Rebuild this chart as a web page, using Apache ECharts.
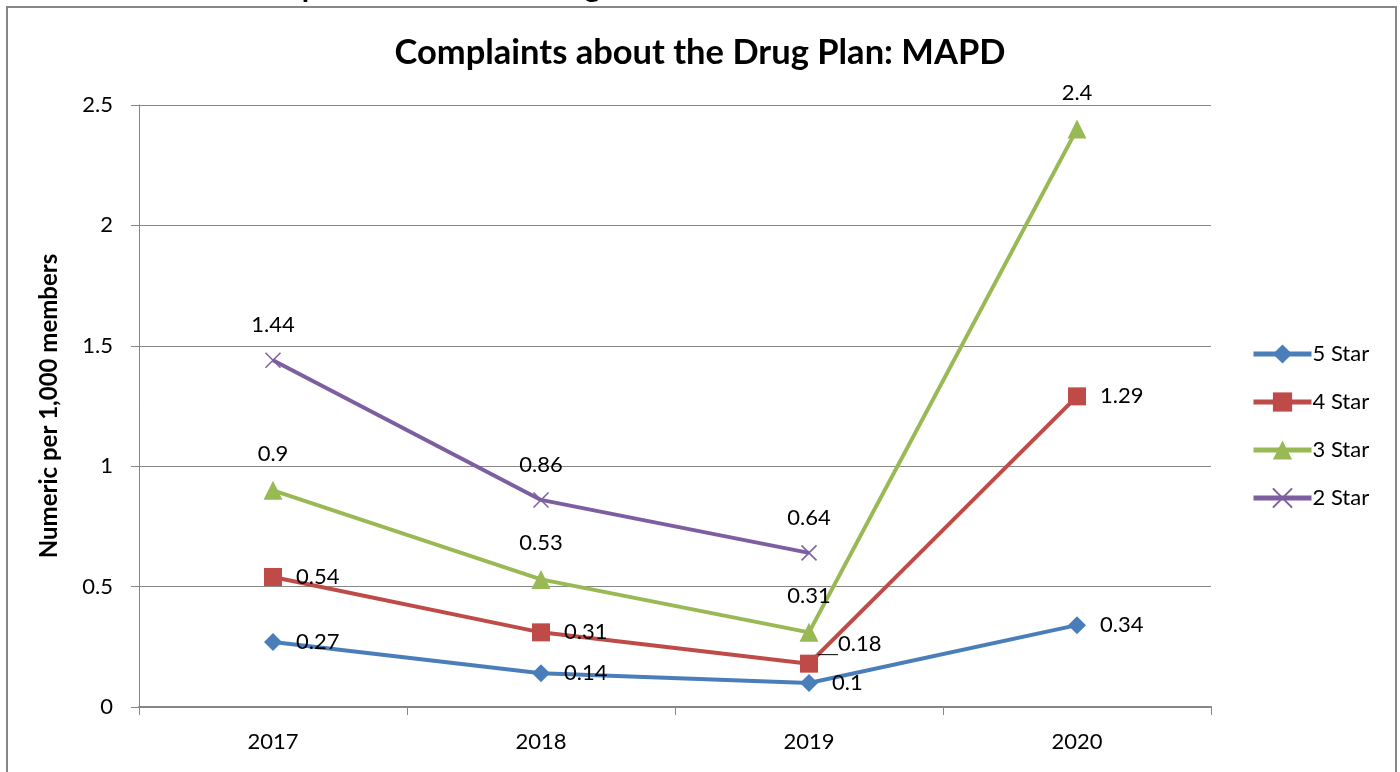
<!DOCTYPE html>
<html>
<head>
<meta charset="utf-8">
<script src="https://cdn.jsdelivr.net/npm/echarts@6/dist/echarts.min.js"></script>
<style>
  html, body { margin: 0; padding: 0; background: #ffffff; }
  #chart { width: 1400px; height: 772px; }
</style>
</head>
<body>
<div id="chart"></div>
<script>
// Yearly complaint rates (per 1,000 members) by star rating
const years = ['2017', '2018', '2019', '2020'];
const fiveStar = [0.27, 0.14, 0.1, 0.34];
const fourStar = [0.54, 0.31, 0.18, 1.29];
const threeStar = [0.9, 0.53, 0.31, 2.4];
const twoStar = [1.44, 0.86, 0.64, null];
const yTicks = [0, 0.5, 1, 1.5, 2, 2.5];

const FONT = 'Lato, "Open Sans", sans-serif';
const AXIS_GRAY = '#868686';
const TXT = 22;

const chart = echarts.init(document.getElementById('chart'));

function labelStyle(position, distance) {
  return {
    show: true,
    position: position,
    distance: distance,
    color: '#000',
    fontFamily: FONT,
    fontSize: TXT,
    formatter: (p) => String(p.value)
  };
}

// 4 Star 2019 label sits up and to the right of its marker, with a leader line
const fourStarData = fourStar.map((v, i) =>
  i === 2
    ? {
        value: v,
        label: { offset: [6, -20] },
        labelLine: { show: true, length2: 4, lineStyle: { color: '#000', width: 1 } }
      }
    : v
);

const crossPath = 'path://M0,0L10,10M10,0L0,10';

chart.setOption({
  animation: false,
  backgroundColor: '#ffffff',
  title: {
    text: 'Complaints about the Drug Plan: MAPD',
    left: 'center',
    top: 30,
    textStyle: { fontFamily: FONT, fontWeight: 'bold', fontSize: 34.5, color: '#000' }
  },
  graphic: [
    {
      type: 'text',
      left: 44,
      top: -28,
      style: {
        text: 'Measure D04: Complaints about the Drug Plan',
        font: 'bold 30px ' + FONT,
        fill: '#000'
      }
    },
    {
      type: 'rect',
      shape: { x: 7, y: 7, width: 1389, height: 775 },
      style: { fill: 'none', stroke: AXIS_GRAY, lineWidth: 2 },
      z: -1
    }
  ],
  legend: {
    orient: 'vertical',
    left: 1246,
    top: 338,
    itemGap: 26,
    itemWidth: 58,
    itemHeight: 24,
    lineStyle: { width: 5 },
    textStyle: { fontFamily: FONT, fontSize: TXT, color: '#000', padding: [0, 0, 0, -4] },
    data: ['5 Star', '4 Star', '3 Star', '2 Star']
  },
  grid: { left: 139, right: 189, top: 105, bottom: 65 },
  xAxis: {
    type: 'category',
    data: years,
    boundaryGap: true,
    axisLine: { lineStyle: { color: AXIS_GRAY, width: 2 } },
    axisTick: { show: true, length: 8, lineStyle: { color: AXIS_GRAY } },
    axisLabel: { color: '#000', fontFamily: FONT, fontSize: TXT, margin: 24 }
  },
  yAxis: {
    type: 'value',
    min: yTicks[0],
    max: yTicks[yTicks.length - 1],
    interval: 0.5,
    name: 'Numeric per 1,000 members',
    nameLocation: 'middle',
    nameGap: 78,
    nameTextStyle: { fontFamily: FONT, fontWeight: 'bold', fontSize: 24, color: '#000' },
    axisLine: { show: true, lineStyle: { color: AXIS_GRAY, width: 1 } },
    axisTick: { show: true, length: 8, lineStyle: { color: AXIS_GRAY } },
    axisLabel: {
      color: '#000', fontFamily: FONT, fontSize: TXT, margin: 26,
      formatter: (v) => String(v)
    },
    splitLine: { show: true, lineStyle: { color: AXIS_GRAY, width: 1 } }
  },
  series: [
    {
      name: '5 Star',
      type: 'line',
      data: fiveStar,
      color: '#4A7EBB',
      symbol: 'diamond',
      symbolSize: 18,
      lineStyle: { width: 4 },
      label: labelStyle('right', 14),
      z: 4
    },
    {
      name: '4 Star',
      type: 'line',
      data: fourStarData,
      color: '#BE4B48',
      symbol: 'rect',
      symbolSize: 18,
      lineStyle: { width: 4 },
      label: labelStyle('right', 14),
      z: 3
    },
    {
      name: '3 Star',
      type: 'line',
      data: threeStar,
      color: '#98B954',
      symbol: 'triangle',
      symbolSize: 19,
      lineStyle: { width: 4 },
      label: labelStyle('top', 16),
      z: 2
    },
    {
      name: '2 Star',
      type: 'line',
      data: twoStar,
      color: '#7D5FA0',
      symbol: crossPath,
      symbolSize: 15,
      itemStyle: { borderColor: '#7D5FA0', borderWidth: 1.5 },
      lineStyle: { width: 4 },
      label: labelStyle('top', 16),
      z: 1
    }
  ]
});
</script>
</body>
</html>
